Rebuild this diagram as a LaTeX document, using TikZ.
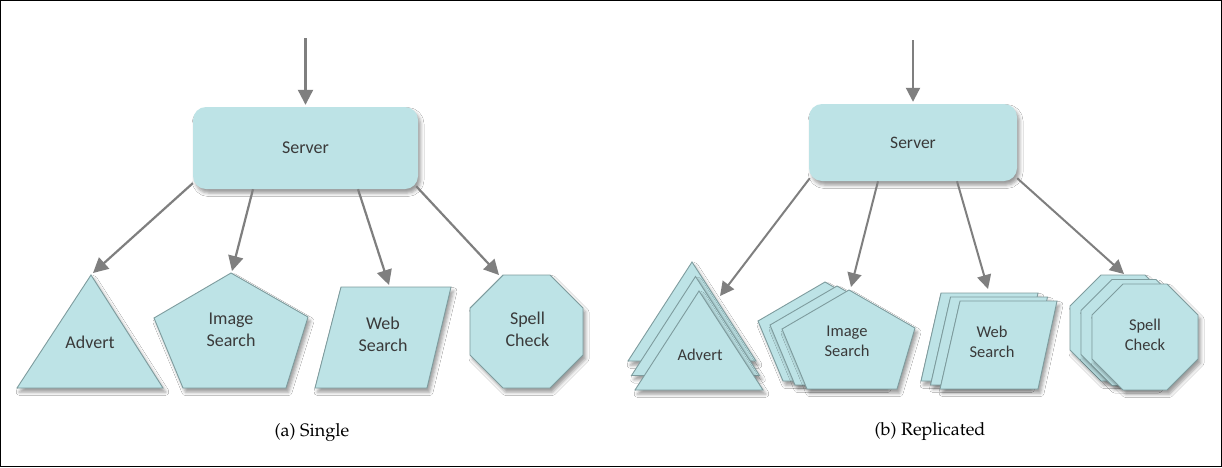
\documentclass[tikz,border=0pt]{standalone}
\usepackage[T1]{fontenc}
\usepackage{fontspec}
\setmainfont{Carlito}
\usetikzlibrary{arrows.meta,shadows.blur,calc}
\definecolor{shapefill}{HTML}{BDE3E6}
\definecolor{shapeline}{HTML}{7E9C9E}
\definecolor{arrowgray}{HTML}{7F7F7F}
\definecolor{txtgray}{HTML}{3A3A3A}
\newcommand{\capfont}{\fontencoding{T1}\fontfamily{ppl}\selectfont}
\tikzset{
  softshadow/.style={blur shadow={shadow xshift=2.5pt, shadow yshift=-4pt, shadow blur radius=3.5pt, shadow opacity=40}},
  shp/.style={fill=shapefill, draw=shapeline, line width=0.9pt, line join=miter, softshadow},
  srvbox/.style={rectangle, rounded corners=13pt, fill=shapefill, draw=none, softshadow,
    text=txtgray, font=\fontsize{18}{21}\selectfont},
  lblA/.style={align=center, text=txtgray, font=\fontsize{18}{22}\selectfont, inner sep=0pt},
  lblB/.style={align=center, text=txtgray, font=\fontsize{16.5}{20}\selectfont, inner sep=0pt},
  capnode/.style={text=black, font=\capfont\fontsize{18}{22}\selectfont, inner sep=0pt},
  arrA/.style={draw=arrowgray, line width=2.2pt, -{Triangle[length=15pt,width=15pt]}},
  arrB/.style={draw=arrowgray, line width=2pt, -{Triangle[length=14pt,width=14pt]}},
}
\begin{document}
\begin{tikzpicture}[x=1pt,y=-1pt]
\useasboundingbox (0,0) rectangle (1222,467);
\fill[white] (0,0) rectangle (1222,467);
\draw[black, line width=1.2pt] (0.6,0.6) rectangle (1221.4,466.4);

% ---------------- (a) Single ----------------
\draw[shp] (91,275) -- (163,388) -- (17,388) -- cycle;
\draw[shp] (231,273) -- (308,317) -- (286,388) -- (183,388) -- (154,318) -- cycle;
\draw[shp] (341,287) -- (451,287) -- (427,388) -- (315,388) -- cycle;
\draw[shp] (503.1,275) -- (549.9,275) -- (583,308.1) -- (583,354.9) -- (549.9,388) -- (503.1,388) -- (470,354.9) -- (470,308.1) -- cycle;

\node[lblA] (advA) at (90,342) {Advert};
\node[lblA] (imgA) at (231,330) {Image\\Search};
\node[lblA] (webA) at (383,334.5) {Web\\Search};
\node[lblA] (splA) at (527.5,329) {Spell\\Check};

\node[srvbox, minimum width=225pt, minimum height=82pt] (srvA) at (305.5,148) {Server};

\coordinate (inA) at (305.5,38);
\coordinate (tAdvA) at (93,273);
\coordinate (tImgA) at (232,271);
\coordinate (tWebA) at (389,285);
\coordinate (tSplA) at (499,275);
\draw[arrA] (inA) -- ($(srvA.north)+(0,-2)$);
\draw[arrA] ($(srvA.south west)+(0,-6)$) -- (tAdvA);
\draw[arrA] ($(srvA.south)+(-52.5,0)$) -- (tImgA);
\draw[arrA] ($(srvA.south)+(52.5,0)$) -- (tWebA);
\draw[arrA] ($(srvA.south east)+(-2,-3)$) -- (tSplA);

\node[capnode] (capA) at (312,433) {(a) Single};

% ---------------- (b) Replicated ----------------
\foreach \s in {2,1,0}{
  \draw[shp, shift={(-3.5*\s,-14.5*\s)}] (699,291) -- (763,390) -- (635,390) -- cycle;
}
\foreach \s in {2,1,0}{
  \draw[shp, shift={(-12*\s,-4*\s)}] (849,290) -- (915,328) -- (897,389) -- (807,389) -- (782,329) -- cycle;
}
\foreach \s in {2,1,0}{
  \draw[shp, shift={(-9.5*\s,-4*\s)}] (960,301) -- (1057,301) -- (1038,389) -- (940,389) -- cycle;
}
\foreach \s in {2,1,0}{
  \draw[shp, shift={(-11*\s,-4.5*\s)}] (1123.05,284) -- (1166.95,284) -- (1198,315.05) -- (1198,358.95) -- (1166.95,390) -- (1123.05,390) -- (1092,358.95) -- (1092,315.05) -- cycle;
}

\node[lblB] (advB) at (700,355) {Advert};
\node[lblB] (imgB) at (847,341) {Image\\Search};
\node[lblB] (webB) at (992,342) {Web\\Search};
\node[lblB] (splB) at (1145,335) {Spell\\Check};

\node[srvbox, minimum width=208pt, minimum height=77pt, font=\fontsize{17.5}{21}\selectfont] (srvB) at (913,142.5) {Server};

\coordinate (inB) at (913,40);
\coordinate (tAdvB) at (720,296);
\coordinate (tImgB) at (851,287);
\coordinate (tWebB) at (988,289);
\coordinate (tSplB) at (1124,274);
\draw[arrB] (inB) -- ($(srvB.north)+(0,-2)$);
\draw[arrB] ($(srvB.south west)+(1,-3)$) -- (tAdvB);
\draw[arrB] ($(srvB.south)+(-35,0)$) -- (tImgB);
\draw[arrB] ($(srvB.south)+(44,0)$) -- (tWebB);
\draw[arrB] ($(srvB.south east)+(0,-3)$) -- (tSplB);

\node[capnode] (capB) at (930,432) {(b) Replicated};
\end{tikzpicture}
\end{document}
